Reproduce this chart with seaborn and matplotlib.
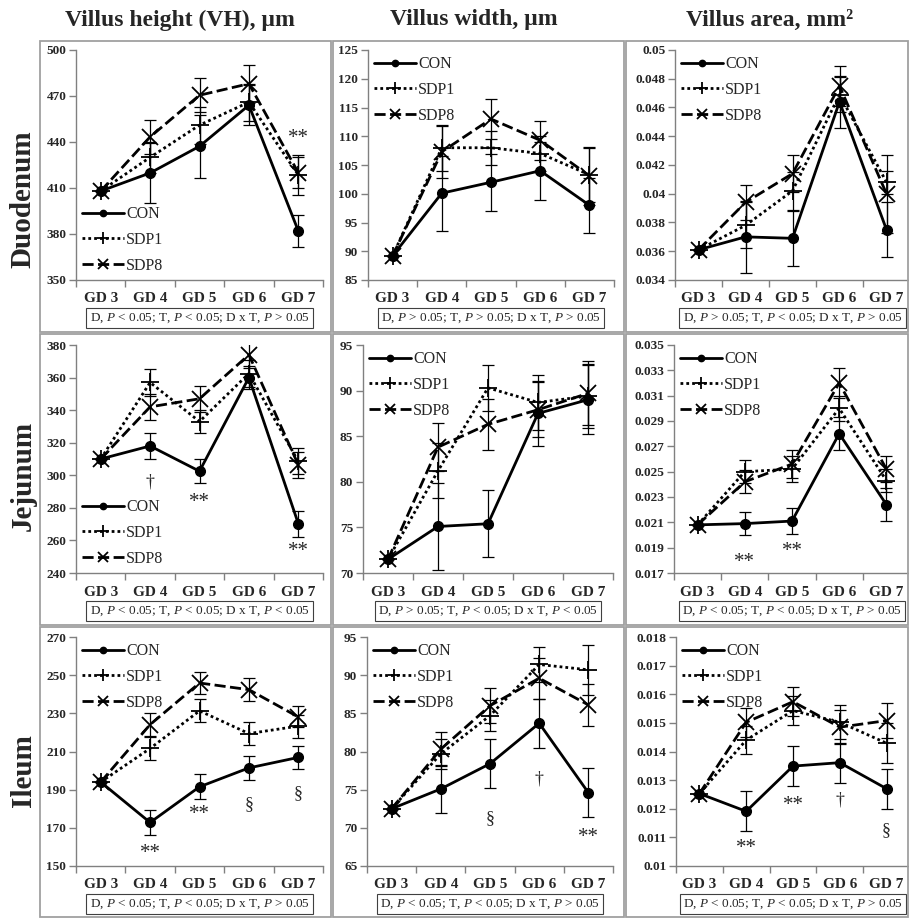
import numpy as np
import pandas as pd
import seaborn as sns
import matplotlib.pyplot as plt
from matplotlib.patches import Rectangle
from matplotlib.ticker import FixedLocator, FixedFormatter, NullFormatter, FuncFormatter

# categories / groups
days = ["GD 3", "GD 4", "GD 5", "GD 6", "GD 7"]
groups = ["CON", "SDP1", "SDP8"]
col_titles = ["Villus height (VH), \u00b5m", "Villus width, \u00b5m", "Villus area, mm\u00b2"]
row_titles = ["Duodenum", "Jejunum", "Ileum"]

# means (rows: CON, SDP1, SDP8) and SE
duo_vh = [[408, 419.8, 437.2, 464, 382],
          [408, 430, 451, 466, 418.5],
          [408, 443.3, 470.5, 478, 420]]
duo_vh_se = [[0, 19.5, 20.5, 13, 10.5],
             [0, 10, 12, 12, 13],
             [0, 11, 11, 12.5, 10]]
duo_vw = [[89.2, 100.1, 102, 104, 98],
          [89.2, 108, 108, 107, 103.3],
          [89.2, 107.3, 113, 109.3, 103.1]]
duo_vw_se = [[0, 6.5, 5, 5, 4.8],
             [0, 4, 3, 3, 4.7],
             [0, 4.5, 3.5, 3.4, 5]]
duo_va = [[0.0361, 0.0370, 0.0369, 0.0464, 0.0375],
          [0.0361, 0.0378, 0.0402, 0.0469, 0.0408],
          [0.0361, 0.0394, 0.0414, 0.0475, 0.0400]]
duo_va_se = [[0, 0.0025, 0.0019, 0.0018, 0.0019],
             [0, 0.0016, 0.0013, 0.0012, 0.0008],
             [0, 0.0012, 0.0013, 0.0014, 0.0027]]

jej_vh = [[310, 318, 302.5, 360, 270.3],
          [310, 357, 333, 362.5, 308.5],
          [310, 342, 347, 374, 306.4]]
jej_vh_se = [[0, 8, 7.5, 7, 8],
             [0, 8.5, 7, 8, 8],
             [0, 8, 8, 8, 8]]
jej_vw = [[71.5, 75.1, 75.4, 87.5, 89.0],
          [71.5, 81.2, 90.3, 88.7, 89.4],
          [71.5, 83.8, 86.3, 87.9, 89.7]]
jej_vw_se = [[0, 4.8, 3.7, 3.6, 3.8],
             [0, 3.0, 2.5, 3.0, 3.5],
             [0, 2.6, 2.8, 3.0, 3.5]]
jej_va = [[0.0208, 0.0209, 0.0211, 0.0280, 0.0224],
          [0.0208, 0.0250, 0.0252, 0.0300, 0.0243],
          [0.0208, 0.0242, 0.0256, 0.0320, 0.0252]]
jej_va_se = [[0, 0.0009, 0.0010, 0.0013, 0.0013],
             [0, 0.0009, 0.0010, 0.0010, 0.0009],
             [0, 0.0009, 0.0011, 0.0012, 0.0010]]

ile_vh = [[194, 172.8, 191.5, 201.4, 206.9],
          [194, 211.6, 231.3, 219.4, 223.3],
          [194, 224.1, 245.9, 242.4, 228.1]]
ile_vh_se = [[0, 6.5, 6.5, 6.5, 6],
             [0, 6, 6, 6, 6],
             [0, 6, 6, 6, 5.5]]
ile_vw = [[72.5, 75.1, 78.4, 83.7, 74.6],
          [72.5, 79.7, 84.7, 91.4, 90.7],
          [72.5, 80.3, 86.0, 89.6, 86.1]]
ile_vw_se = [[0, 3.1, 3.2, 3.2, 3.2],
             [0, 2.0, 2.0, 2.3, 3.3],
             [0, 2.2, 2.3, 2.7, 2.7]]
ile_va = [[0.01253, 0.01191, 0.01349, 0.01361, 0.0127],
          [0.01253, 0.0144, 0.01543, 0.01502, 0.01429],
          [0.01253, 0.01502, 0.01574, 0.01485, 0.01508]]
ile_va_se = [[0, 0.0007, 0.0007, 0.0007, 0.0007],
             [0, 0.0005, 0.0005, 0.0006, 0.0007],
             [0, 0.0005, 0.0005, 0.0006, 0.0006]]

# axis ranges (min, max, step)
duo_ranges = [(350, 500, 30), (85, 125, 5), (0.034, 0.05, 0.002)]
jej_ranges = [(240, 380, 20), (70, 95, 5), (0.017, 0.035, 0.002)]
ile_ranges = [(150, 270, 20), (65, 95, 5), (0.01, 0.018, 0.001)]

duo_stats = ["D, $P$ < 0.05; T, $P$ < 0.05; D x T, $P$ > 0.05",
             "D, $P$ > 0.05; T, $P$ > 0.05; D x T, $P$ > 0.05",
             "D, $P$ > 0.05; T, $P$ < 0.05; D x T, $P$ > 0.05"]
jej_stats = ["D, $P$ < 0.05; T, $P$ < 0.05; D x T, $P$ < 0.05",
             "D, $P$ > 0.05; T, $P$ < 0.05; D x T, $P$ < 0.05",
             "D, $P$ < 0.05; T, $P$ < 0.05; D x T, $P$ > 0.05"]
ile_stats = ["D, $P$ < 0.05; T, $P$ < 0.05; D x T, $P$ > 0.05"] * 3

# significance marks: (day index, y value, symbol)
duo_notes = [[(4, 442, "**")], [], []]
jej_notes = [[(1, 296, "\u2020"), (2, 283, "**"), (4, 253, "**")],
             [],
             [(1, 0.0178, "**"), (2, 0.0187, "**")]]
ile_notes = [[(1, 156.6, "**"), (2, 177, "**"), (3, 182, "\u00a7"), (4, 188, "\u00a7")],
             [(2, 71.2, "\u00a7"), (3, 76.4, "\u2020"), (4, 68.7, "**")],
             [(1, 0.01061, "**"), (2, 0.01212, "**"), (3, 0.0123, "\u2020"), (4, 0.01125, "\u00a7")]]

sns.set_theme(style="white")
plt.rcParams['font.family'] = ['Liberation Serif', 'DejaVu Serif']
plt.rcParams['mathtext.fontset'] = 'custom'
plt.rcParams['mathtext.rm'] = 'Liberation Serif'
plt.rcParams['mathtext.it'] = 'Liberation Serif:italic'
plt.rcParams['mathtext.bf'] = 'Liberation Serif:bold'

W, H = 909, 918
fig = plt.figure(figsize=(W / 100, H / 100), dpi=100)
fig.patch.set_facecolor('white')

styles = {
    "CON": dict(linestyle='-', marker='o', markersize=7, markeredgewidth=1, markerfacecolor='black'),
    "SDP1": dict(linestyle=(0, (1, 1.1)), marker='+', markersize=13, markeredgewidth=1.3),
    "SDP8": dict(linestyle=(0, (4, 1.6)), marker='x', markersize=12, markeredgewidth=1.3),
}

# layout in pixels
row_y = [(50, 280), (345, 573), (637, 866)]
col_x = [[(76, 323), (368, 614), (675, 910)],
         [(76, 323), (363, 613), (674, 910)],
         [(76, 323), (367, 613), (676, 910)]]
box_x = [(40, 331), (333, 624), (626, 908)]
box_y = [(41, 332), (334, 625), (627, 917)]


def draw_panel(ax, means, ses, yr, stats, notes, legend_low):
    xs = np.arange(len(days))
    for gi, g in enumerate(groups):
        df = pd.DataFrame({"day": xs, "value": means[gi]})
        ax.errorbar(df["day"], df["value"], yerr=ses[gi], fmt='none', ecolor='black',
                    elinewidth=0.9, capsize=4, capthick=0.9, zorder=2)
        sns.lineplot(data=df, x="day", y="value", ax=ax, color='black', linewidth=2,
                     markeredgecolor='black', label=g, errorbar=None, zorder=3,
                     **styles[g])
    ymin, ymax, step = yr
    ax.set_xlim(-0.5, 4.5)
    ax.set_ylim(ymin, ymax)
    ax.yaxis.set_major_locator(FixedLocator(np.arange(ymin, ymax + step / 2, step)))
    ax.yaxis.set_major_formatter(FuncFormatter(lambda v, p: f"{round(v, 4):g}"))
    ax.xaxis.set_major_locator(FixedLocator(np.arange(-0.5, 5, 1)))
    ax.xaxis.set_major_formatter(NullFormatter())
    ax.xaxis.set_minor_locator(FixedLocator(xs))
    ax.xaxis.set_minor_formatter(FixedFormatter(days))
    ax.tick_params(axis='x', which='major', direction='out', length=5, width=1,
                   color='#808080', bottom=True)
    ax.tick_params(axis='x', which='minor', length=0, pad=9, labelsize=11, bottom=True)
    ax.tick_params(axis='y', direction='out', length=5, width=1, color='#808080',
                   left=True, labelsize=9.5, pad=2)
    for lbl in ax.get_xticklabels(minor=True) + ax.get_yticklabels():
        lbl.set_fontweight('bold')
    for s in ['top', 'right']:
        ax.spines[s].set_visible(False)
    for s in ['left', 'bottom']:
        ax.spines[s].set_color('#808080')
        ax.spines[s].set_linewidth(1)
    ax.set_xlabel('')
    ax.set_ylabel('')
    ax.grid(False)
    ax.set_facecolor('none')
    for (xi, yv, sym) in notes:
        fs = 15 if sym == "**" else 13
        ax.text(xi, yv, sym, ha='center', va='center', fontsize=fs)
    h = ax.get_position().height * H
    ax.text(0.5, -38 / h, stats, transform=ax.transAxes, ha='center', va='center',
            fontsize=9.5,
            bbox=dict(boxstyle='square,pad=0.25', fc='white', ec='#404040', lw=0.8))
    ax.legend(loc='lower left' if legend_low else 'upper left',
              bbox_to_anchor=(0.0, 0.0) if legend_low else (0.0, 1.0),
              frameon=False, fontsize=11.5, handlelength=2.6, handletextpad=0.15,
              labelspacing=0.6, borderaxespad=0.2, borderpad=0.2, markerscale=0.65)


panels = [
    [(duo_vh, duo_vh_se), (duo_vw, duo_vw_se), (duo_va, duo_va_se)],
    [(jej_vh, jej_vh_se), (jej_vw, jej_vw_se), (jej_va, jej_va_se)],
    [(ile_vh, ile_vh_se), (ile_vw, ile_vw_se), (ile_va, ile_va_se)],
]
ranges = [duo_ranges, jej_ranges, ile_ranges]
stats = [duo_stats, jej_stats, ile_stats]
notes = [duo_notes, jej_notes, ile_notes]

for r in range(3):
    for c in range(3):
        bx0, bx1 = box_x[c]
        by0, by1 = box_y[r]
        fig.add_artist(Rectangle((bx0 / W, 1 - by1 / H), (bx1 - bx0) / W, (by1 - by0) / H,
                                 transform=fig.transFigure, fill=False,
                                 ec='#a0a0a0', lw=1.3))
        x0, x1 = col_x[r][c]
        y0, y1 = row_y[r]
        ax = fig.add_axes([x0 / W, 1 - y1 / H, (x1 - x0) / W, (y1 - y0) / H])
        m, se = panels[r][c]
        draw_panel(ax, m, se, ranges[r][c], stats[r][c], notes[r][c],
                   legend_low=(c == 0 and r < 2))

for x, t in zip([180, 474, 770], col_titles):
    fig.text(x / W, 1 - 20 / H, t, ha='center', va='center', fontsize=17, fontweight='bold')
for y, t in zip([199, 476, 771], row_titles):
    fig.text(23 / W, 1 - y / H, t, ha='center', va='center', rotation=90,
             fontsize=21, fontweight='bold')

fig.savefig('out.png', dpi=100)
plt.close(fig)
